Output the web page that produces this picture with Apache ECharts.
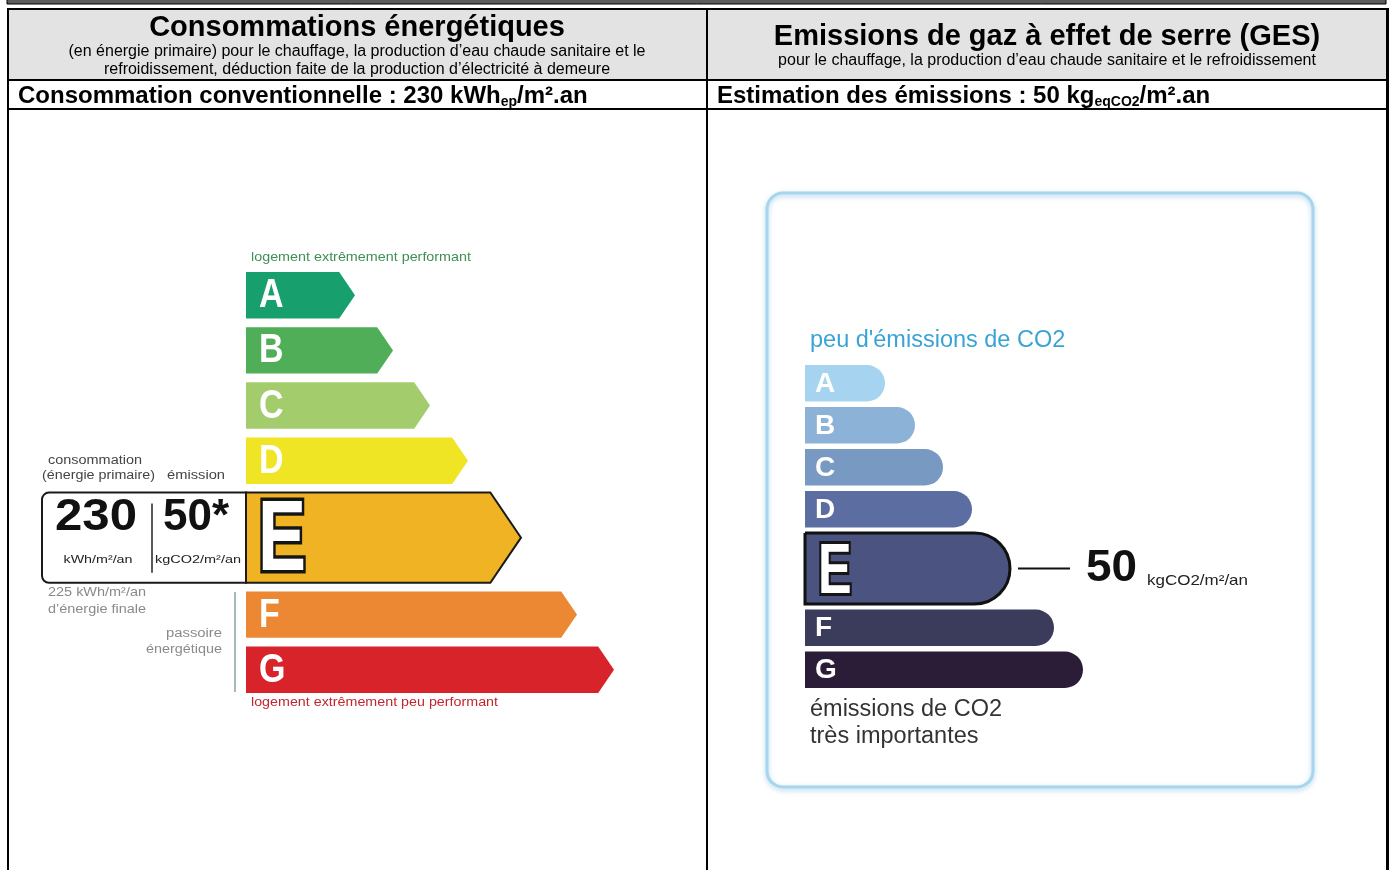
<!DOCTYPE html>
<html><head><meta charset="utf-8">
<script src="https://cdn.jsdelivr.net/npm/echarts@6/dist/echarts.min.js"></script>
<style>html,body{margin:0;padding:0;background:#fff}#c{width:1391px;height:870px}</style>
</head><body><div id="c"></div>
<script>
// ---------- data ----------
const classes = ['A', 'B', 'C', 'D', 'E', 'F', 'G'];
const energyBarLengths = [109, 147, 184, 222, 275, 331, 368];
const ghgBarLengths = [80, 110, 138, 167, 205, 249, 278];
const energyClass = 'E';
const ghgClass = 'E';
const energyPrimary = 230;
const energyFinal = 225;
const ghgEmission = 50;
const energyUnit = 'kWh/m²/an';
const ghgUnit = 'kgCO2/m²/an';

// ---------- styles ----------
const energyColors = ['#17a06d', '#4fae57', '#a3cc6d', '#efe524', '#f0b324', '#ec8834', '#d8232a'];
const ghgColors = ['#a6d4f0', '#8cb3d7', '#7899c2', '#5c6da1', '#4b5481', '#3b3b5b', '#2b1c38'];
const FF = '"Liberation Sans", Arial, sans-serif';

const mctx = document.createElement('canvas').getContext('2d');
function fitScale(text, font, width) { mctx.font = font; return width / mctx.measureText(text).width; }

function rowLayout(api, idx, selIdx, bigRatio, gapRatio) {
  const n = classes.length;
  const band = api.size([0, 1])[1];
  const top0 = api.coord([0, 0])[1] - band / 2;
  const span = band * n;
  const h = span / (n - 1 + bigRatio + (n - 1) * gapRatio);
  const g = h * gapRatio, H = h * bigRatio;
  let y = top0;
  for (let k = 0; k < idx; k++) y += (k === selIdx ? H : h) + g;
  return { y: y, height: idx === selIdx ? H : h };
}

function txt(x, y, text, font, fill, align, vAlign, extra) {
  const o = { type: 'text', x: x, y: y, style: { text: text, font: font, fill: fill,
    textAlign: align || 'left', align: align || 'left',
    textVerticalAlign: vAlign || 'middle', verticalAlign: vAlign || 'middle' } };
  if (extra) Object.assign(o, extra);
  return o;
}
function fitTxt(x, y, text, size, fill, width, align) {
  const font = size + 'px ' + FF;
  const sx = fitScale(text, font, width);
  return txt(x, y, text, font, fill, align, 'middle', { scaleX: sx });
}
function outlinedLetter(x, y, letter, size, sx, lw) {
  return { type: 'text', x: x, y: y, scaleX: sx,
    style: { text: letter, font: 'bold ' + size + 'px ' + FF, fill: '#fff', stroke: '#151515', lineWidth: lw,
      strokeFirst: true, lineJoin: 'round',
      textAlign: 'left', align: 'left', textVerticalAlign: 'middle', verticalAlign: 'middle' } };
}

function renderEnergy(params, api) {
  const i = params.dataIndex;
  const sel = classes.indexOf(energyClass);
  const L = rowLayout(api, i, sel, 1.94, 0.186);
  const x0 = api.coord([0, i])[0];
  const x1 = api.coord([api.value(0), i])[0];
  const top = L.y, bot = L.y + L.height, mid = (top + bot) / 2;
  const d = L.height * 0.34;
  const isSel = i === sel;
  const ch = [];
  if (isSel) {
    const boxW = 204;
    ch.push({ type: 'rect', shape: { x: x0 - boxW, y: top, width: boxW, height: L.height, r: [7, 0, 0, 7] },
      style: { fill: '#fff', stroke: '#1a1a1a', lineWidth: 2 } });
    ch.push({ type: 'line', shape: { x1: x0 - 94, y1: top + 11, x2: x0 - 94, y2: bot - 10 },
      style: { stroke: '#222', lineWidth: 1.5 } });
    const f1 = 'bold 44px ' + FF;
    ch.push(txt(x0 - 150, top + 25, String(energyPrimary), f1, '#111', 'center', 'middle',
      { scaleX: fitScale(String(energyPrimary), f1, 82) }));
    const t2 = ghgEmission + '*';
    ch.push(txt(x0 - 83, top + 25, t2, f1, '#111', 'left', 'middle', { scaleX: fitScale(t2, f1, 66) }));
    const fu = '11px ' + FF;
    ch.push(txt(x0 - 148, top + 67, energyUnit, fu, '#222', 'center', 'middle', { scaleX: fitScale(energyUnit, fu, 69) }));
    ch.push(txt(x0 - 91, top + 67, ghgUnit, fu, '#222', 'left', 'middle', { scaleX: fitScale(ghgUnit, fu, 86) }));
  }
  ch.push({ type: 'polygon', shape: { points: [[x0, top], [x1 - d, top], [x1, mid], [x1 - d, bot], [x0, bot]] },
    style: { fill: energyColors[i], stroke: isSel ? '#1a1a1a' : null, lineWidth: isSel ? 2 : 0 } });
  if (isSel) {
    ch.push(outlinedLetter(x0 + 12, mid + 5, classes[i], 100, 0.72, 7));
  } else {
    ch.push(txt(x0 + 13, mid + 1, classes[i], 'bold 40px ' + FF, '#fff', 'left', 'middle', { scaleX: 0.85 }));
  }
  return { type: 'group', children: ch };
}

function renderGhg(params, api) {
  const i = params.dataIndex;
  const sel = classes.indexOf(ghgClass);
  const L = rowLayout(api, i, sel, 1.945, 0.151);
  const x0 = api.coord([0, i])[0];
  const x1 = api.coord([api.value(0), i])[0];
  const top = L.y, h = L.height, mid = top + h / 2;
  const isSel = i === sel;
  const ch = [];
  ch.push({ type: 'rect', shape: { x: x0, y: top, width: x1 - x0, height: h, r: [0, h / 2, h / 2, 0] },
    style: { fill: ghgColors[i], stroke: isSel ? '#111' : null, lineWidth: isSel ? 3 : 0 } });
  if (isSel) {
    ch.push(outlinedLetter(x0 + 13, mid + 5, classes[i], 70, 0.72, 6));
    ch.push({ type: 'line', shape: { x1: x1 + 8, y1: mid, x2: x1 + 60, y2: mid }, style: { stroke: '#111', lineWidth: 2 } });
    const fv = 'bold 44px ' + FF;
    ch.push(txt(x1 + 76, mid, String(ghgEmission), fv, '#111', 'left', 'middle', { scaleX: fitScale(String(ghgEmission), fv, 51) }));
    const fu = '15px ' + FF;
    ch.push(txt(x1 + 137, mid + 12, ghgUnit, fu, '#222', 'left', 'middle', { scaleX: fitScale(ghgUnit, fu, 101) }));
  } else {
    ch.push(txt(x0 + 10, mid + 1, classes[i], 'bold 28px ' + FF, '#fff', 'left', 'middle'));
  }
  return { type: 'group', children: ch };
}

// ---------- static page elements ----------
const line = (x1, y1, x2, y2, w) => ({ type: 'line', shape: { x1, y1, x2, y2 }, style: { stroke: '#000', lineWidth: w } });
const graphics = [
  { type: 'rect', shape: { x: 7, y: -4, width: 1379, height: 8 }, style: { fill: '#5b5b5b', stroke: '#000', lineWidth: 1 } },
  { type: 'rect', shape: { x: 9, y: 10, width: 697, height: 69 }, style: { fill: '#e3e3e3' } },
  { type: 'rect', shape: { x: 708, y: 10, width: 678, height: 69 }, style: { fill: '#e3e3e3' } },
  line(7, 9, 1389, 9, 2),
  line(8, 8, 8, 872, 2),
  line(707, 9, 707, 872, 2),
  line(1387.5, 8, 1387.5, 872, 3),
  line(8, 80, 1389, 80, 2),
  line(8, 109, 1389, 109, 2),
  txt(357, 28, 'Consommations énergétiques', 'bold 29px ' + FF, '#000', 'center'),
  txt(357, 52, '(en énergie primaire) pour le chauffage, la production d’eau chaude sanitaire et le', '16px ' + FF, '#000', 'center'),
  txt(357, 70, 'refroidissement, déduction faite de la production d’électricité à demeure', '16px ' + FF, '#000', 'center'),
  txt(1047, 37, 'Emissions de gaz à effet de serre (GES)', 'bold 29px ' + FF, '#000', 'center'),
  txt(1047, 61, 'pour le chauffage, la production d’eau chaude sanitaire et le refroidissement', '16px ' + FF, '#000', 'center'),
  { type: 'text', x: 18, y: 96, style: {
      text: '{a|Consommation conventionnelle : ' + energyPrimary + ' kWh}{s|ep}{a|/m².an}',
      textVerticalAlign: 'middle', verticalAlign: 'middle',
      rich: { a: { fontSize: 24, fontWeight: 'bold', fontFamily: FF, fill: '#000', lineHeight: 26 },
              s: { fontSize: 14, fontWeight: 'bold', fontFamily: FF, fill: '#000', verticalAlign: 'bottom', lineHeight: 14 } } } },
  { type: 'text', x: 717, y: 96, style: {
      text: '{a|Estimation des émissions : ' + ghgEmission + ' kg}{s|eqCO2}{a|/m².an}',
      textVerticalAlign: 'middle', verticalAlign: 'middle',
      rich: { a: { fontSize: 24, fontWeight: 'bold', fontFamily: FF, fill: '#000', lineHeight: 26 },
              s: { fontSize: 14, fontWeight: 'bold', fontFamily: FF, fill: '#000', verticalAlign: 'bottom', lineHeight: 14 } } } },
  // left label texts
  fitTxt(251, 258, 'logement extrêmement performant', 12, '#3f8f55', 220),
  fitTxt(48, 461, 'consommation', 12, '#444', 94),
  fitTxt(42, 476, '(énergie primaire)', 12, '#444', 113),
  fitTxt(167, 476, 'émission', 12, '#444', 58),
  fitTxt(48, 593, energyFinal + ' kWh/m²/an', 12, '#8a8a8a', 98),
  fitTxt(48, 610, 'd’énergie finale', 12, '#8a8a8a', 98),
  fitTxt(222, 634, 'passoire', 12, '#8a8a8a', 56, 'right'),
  fitTxt(222, 650, 'énergétique', 12, '#8a8a8a', 76, 'right'),
  { type: 'line', shape: { x1: 235, y1: 592, x2: 235, y2: 692 }, style: { stroke: '#a9b8bb', lineWidth: 2 } },
  fitTxt(251, 703, 'logement extrêmement peu performant', 12, '#c3272d', 247),
  // right box
  { type: 'rect', shape: { x: 767, y: 193, width: 546, height: 594, r: 16 },
    style: { fill: 'none', stroke: '#a6d5ee', lineWidth: 3, shadowBlur: 5, shadowColor: 'rgba(110,175,215,0.55)', shadowOffsetY: 2 } },
  txt(810, 341, 'peu d\'émissions de CO2', '23.5px ' + FF, '#3aa3d6'),
  txt(810, 710, 'émissions de CO2', '23.5px ' + FF, '#333'),
  txt(810, 737, 'très importantes', '23.5px ' + FF, '#333')
];

const chart = echarts.init(document.getElementById('c'), null, { renderer: 'canvas' });
chart.setOption({
  backgroundColor: '#fff',
  animation: false,
  grid: [
    { left: 246, top: 272, width: 400, height: 421 },
    { left: 805, top: 365, width: 400, height: 323 }
  ],
  xAxis: [
    { type: 'value', gridIndex: 0, min: 0, max: 400, show: false },
    { type: 'value', gridIndex: 1, min: 0, max: 400, show: false }
  ],
  yAxis: [
    { type: 'category', gridIndex: 0, data: classes, inverse: true, show: false },
    { type: 'category', gridIndex: 1, data: classes, inverse: true, show: false }
  ],
  series: [
    { type: 'custom', xAxisIndex: 0, yAxisIndex: 0, clip: false, renderItem: renderEnergy,
      encode: { x: 0, y: 1 }, data: energyBarLengths.map((v, i) => [v, i]) },
    { type: 'custom', xAxisIndex: 1, yAxisIndex: 1, clip: false, renderItem: renderGhg,
      encode: { x: 0, y: 1 }, data: ghgBarLengths.map((v, i) => [v, i]) }
  ],
  graphic: graphics
});
</script></body></html>
